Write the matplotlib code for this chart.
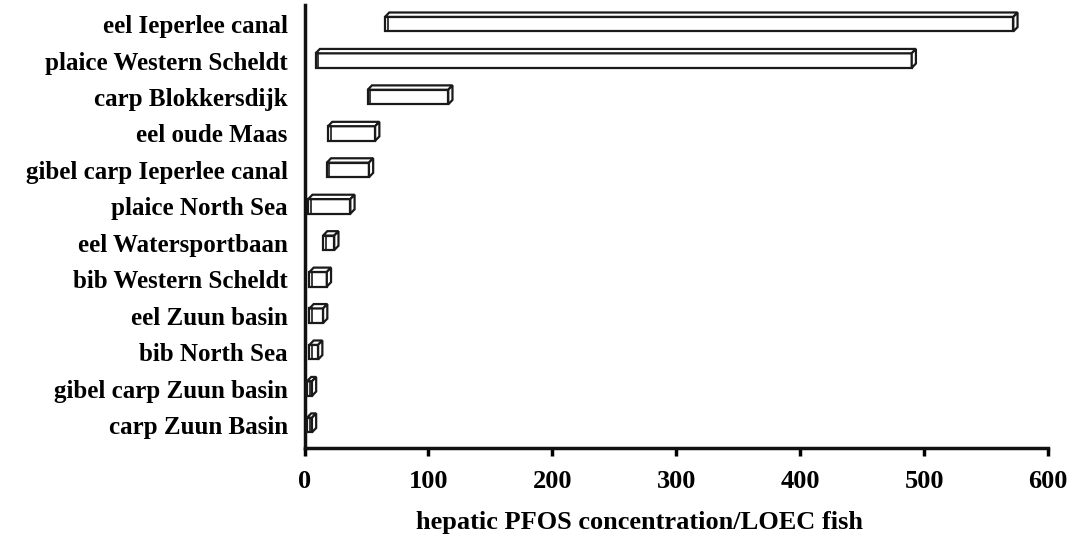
import matplotlib
matplotlib.use('Agg')
import matplotlib.pyplot as plt
from matplotlib.patches import Polygon

# floating ranges (min - max), bottom to top
sites = ['carp Zuun Basin', 'gibel carp Zuun basin', 'bib North Sea', 'eel Zuun basin',
         'bib Western Scheldt', 'eel Watersportbaan', 'plaice North Sea',
         'gibel carp Ieperlee canal', 'eel oude Maas', 'carp Blokkersdijk',
         'plaice Western Scheldt', 'eel Ieperlee canal']
low = [2, 2, 4, 4, 4, 15, 3, 18, 19, 51, 9, 65]
high = [6, 6, 11, 15, 18, 24, 37, 52, 57, 116, 490, 572]
xticks = [0, 100, 200, 300, 400, 500, 600]

plt.rcParams['font.family'] = ['Liberation Serif', 'DejaVu Serif']
plt.rcParams['font.weight'] = 'bold'

fig = plt.figure(figsize=(10.81, 5.42), dpi=100)
ax = fig.add_axes([0.2817, 0.1734, 0.6878, 0.817])
ax.set_xlim(0, 600)
ax.set_ylim(-0.63, 11.52)

h = 0.40      # front face height (rows)
dx = 3.4      # depth in x (data units)
dy = 0.12     # depth in y (rows)
ec = '#1a1a1a'
lw = 1.6

for i, (a, b) in enumerate(zip(low, high)):
    y0, y1 = i - h / 2, i + h / 2
    ax.barh(i, b - a, left=a, height=h, color='white', edgecolor=ec, linewidth=lw, zorder=3)
    top = Polygon([(a, y1), (b, y1), (b + dx, y1 + dy), (a + dx, y1 + dy)],
                  closed=True, facecolor='white', edgecolor=ec, linewidth=lw, zorder=3)
    side = Polygon([(b, y0), (b + dx, y0 + dy), (b + dx, y1 + dy), (b, y1)],
                   closed=True, facecolor='white', edgecolor=ec, linewidth=lw, zorder=3)
    ax.add_patch(top)
    ax.add_patch(side)
    # inner end line on the left cap
    ax.plot([a + dx * 0.6, a + dx * 0.6], [y0, y1], color=ec, lw=1.2, zorder=4)

ax.set_yticks(range(len(sites)))
ax.set_yticklabels(sites, fontsize=18, fontweight='bold')
ax.set_xticks(xticks)
ax.set_xticklabels([str(t) for t in xticks], fontsize=19, fontweight='bold')
ax.tick_params(axis='y', length=0, pad=12)
ax.tick_params(axis='x', length=6, width=2.5, direction='out', pad=10)
ax.set_xlabel('hepatic PFOS concentration/LOEC fish', fontsize=19, fontweight='bold')
ax.xaxis.set_label_coords(0.451, -0.142)

for s in ['top', 'right']:
    ax.spines[s].set_visible(False)
for s in ['left', 'bottom']:
    ax.spines[s].set_linewidth(2.5)
    ax.spines[s].set_color('#111111')

fig.savefig('out.png', dpi=100)
